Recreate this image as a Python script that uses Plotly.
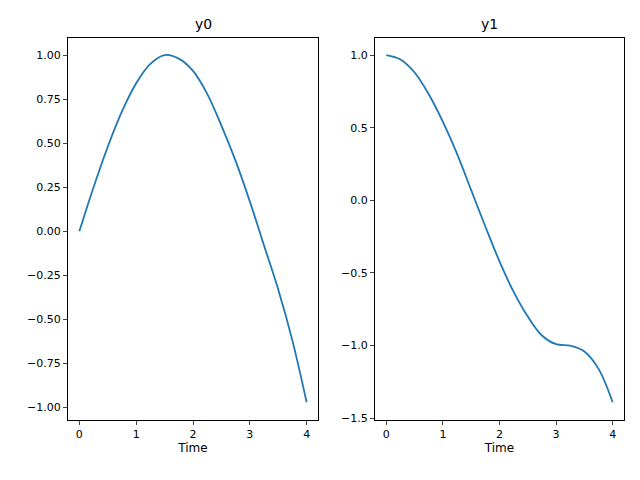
import plotly.graph_objects as go

t = [0, 0.25, 0.5, 0.75, 1, 1.25, 1.5, 1.75, 2, 2.25, 2.5, 2.75, 3, 3.25, 3.5, 3.75, 4]
y0 = [0, 0.25, 0.48, 0.68, 0.84, 0.95, 1.0, 0.98, 0.91, 0.78, 0.6, 0.4, 0.17, -0.08, -0.33, -0.62, -0.97]
y1 = [1.0, 0.97, 0.88, 0.73, 0.54, 0.32, 0.07, -0.18, -0.42, -0.63, -0.8, -0.93, -0.99, -1.0, -1.04, -1.16, -1.39]

L = [60 / 640, 310 / 640]
R = [367 / 640, 616 / 640]
Y = [64 / 480, 450 / 480]

fig = go.Figure()
fig.add_trace(go.Scatter(x=t, y=y0, mode="lines", line=dict(color="#1f77b4", width=1.8, shape="spline"), xaxis="x", yaxis="y"))
fig.add_trace(go.Scatter(x=t, y=y1, mode="lines", line=dict(color="#1f77b4", width=1.8, shape="spline"), xaxis="x2", yaxis="y2"))

ax = dict(showline=True, mirror=True, linecolor="black", linewidth=1, ticks="outside", ticklen=4,
          showgrid=False, zeroline=False, tickfont=dict(size=11, color="black"))
fig.update_layout(
    width=640, height=480, margin=dict(l=0, r=0, t=0, b=0), showlegend=False,
    plot_bgcolor="white", paper_bgcolor="white",
    font=dict(family="DejaVu Sans", color="black"),
    xaxis=dict(ax, domain=L, range=[-0.2, 4.2], tickvals=[0, 1, 2, 3, 4],
               title=dict(text="Time", font=dict(size=12), standoff=2)),
    yaxis=dict(ax, domain=Y, range=[-1.0685, 1.0985],
               tickvals=[-1, -0.75, -0.5, -0.25, 0, 0.25, 0.5, 0.75, 1], tickformat=".2f"),
    xaxis2=dict(ax, domain=R, range=[-0.2, 4.2], tickvals=[0, 1, 2, 3, 4], anchor="y2",
                title=dict(text="Time", font=dict(size=12), standoff=2)),
    yaxis2=dict(ax, domain=Y, range=[-1.5095, 1.1195], anchor="x2",
                tickvals=[-1.5, -1, -0.5, 0, 0.5, 1], tickformat=".1f"),
    annotations=[
        dict(text="y0", x=sum(L) / 2, y=Y[1] + 0.008, xref="paper", yref="paper", showarrow=False,
             yanchor="bottom", font=dict(size=14)),
        dict(text="y1", x=sum(R) / 2, y=Y[1] + 0.008, xref="paper", yref="paper", showarrow=False,
             yanchor="bottom", font=dict(size=14)),
    ],
)
fig.write_html("out.html")
